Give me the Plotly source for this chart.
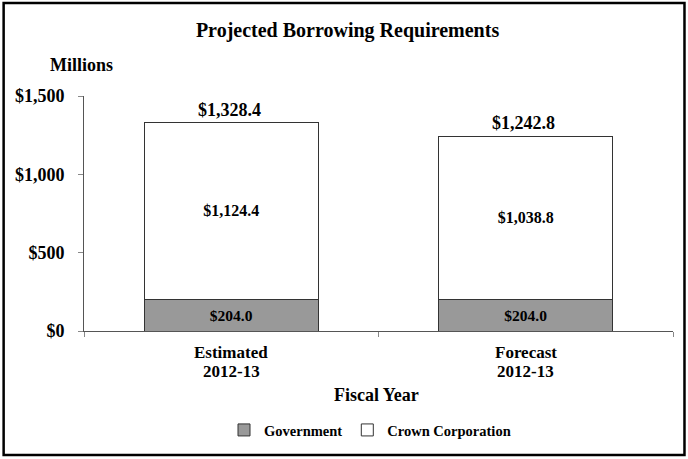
import plotly.graph_objects as go

categories = ["Estimated<br>2012-13", "Forecast<br>2012-13"]
government = [204.0, 204.0]
crown = [1124.4, 1038.8]
totals = [1328.4, 1242.8]
y_ticks = [0, 500, 1000, 1500]
y_tick_labels = ["$0", "$500", "$1,000", "$1,500"]

FONT = "Liberation Serif"
W, H = 688, 459
PL, PR, PT, PB = 83.5, 673.5, 96, 331   # plot area in pixels
PW, PH = PR - PL, PB - PT


def px_x(px):
    return (px - PL) / PW


def px_y(py):
    return (PB - py) / PH


fig = go.Figure()
fig.add_trace(go.Bar(
    x=categories, y=government, name="Government",
    marker=dict(color="#999999", line=dict(color="#333333", width=1)),
    text=[f"${v:,.1f}" for v in government], textposition="inside",
    insidetextanchor="middle",
    textfont=dict(family=FONT, size=15.5, color="black", weight="bold"),
))
fig.add_trace(go.Bar(
    x=categories, y=crown, name="Crown Corporation",
    marker=dict(color="white", line=dict(color="#333333", width=1)),
    text=[f"${v:,.1f}" for v in crown], textposition="inside",
    insidetextanchor="middle",
    textfont=dict(family=FONT, size=16, color="black", weight="bold"),
))

for c, t in zip(categories, totals):
    fig.add_annotation(x=c, y=t, text=f"<b>${t:,.1f}</b>", showarrow=False,
                       yanchor="bottom", yshift=1, xshift=-2,
                       font=dict(family=FONT, size=18, color="black"))

# category labels (two tight lines, as in the reference)
for c in categories:
    lines = c.split("<br>")
    for i, line in enumerate(lines):
        fig.add_annotation(x=c, xref="x", y=px_y(352 + 19 * i), yref="paper",
                           text=f"<b>{line}</b>", showarrow=False,
                           yanchor="middle", borderpad=0,
                           font=dict(family=FONT, size=17, color="black"))

fig.add_annotation(x=px_x(376.5), xref="paper", y=px_y(395), yref="paper",
                   text="<b>Fiscal Year</b>", showarrow=False, yanchor="middle",
                   font=dict(family=FONT, size=18, color="black"))

fig.add_annotation(x=px_x(47), xref="paper", y=px_y(65), yref="paper",
                   text="<b>Millions</b>", showarrow=False,
                   xanchor="left", yanchor="middle",
                   font=dict(family=FONT, size=18, color="black"))

fig.update_layout(
    width=W, height=H,
    barmode="stack", bargap=0.41,
    paper_bgcolor="white", plot_bgcolor="white",
    margin=dict(l=PL, r=W - PR, t=PT, b=H - PB),
    font=dict(family=FONT, size=14, color="black"),
    title=dict(text="<b>Projected Borrowing Requirements</b>",
               x=px_x(347.5), xref="paper", xanchor="center",
               y=1 - 30 / H, yanchor="middle",
               font=dict(family=FONT, size=20, color="black")),
    showlegend=True,
    legend=dict(orientation="h", x=px_x(370), xanchor="center", y=px_y(430),
                yanchor="middle",
                font=dict(family=FONT, size=14.5, color="black", weight="bold"),
                itemwidth=30, traceorder="normal"),
    xaxis=dict(showline=True, linecolor="#555555", linewidth=1,
               ticks="outside", tickson="boundaries", ticklen=5, tickcolor="#888888",
               showticklabels=False),
    yaxis=dict(range=[0, 1500], tickvals=y_ticks, ticktext=y_tick_labels,
               showgrid=False, zeroline=False, showline=True, linecolor="#555555",
               linewidth=1, ticks="outside", ticklen=5, tickcolor="#888888",
               ticklabelstandoff=10,
               tickfont=dict(family=FONT, size=18, color="black", weight="bold")),
)

fig.add_shape(type="rect", xref="paper", yref="paper",
              x0=px_x(3), x1=px_x(685), y0=px_y(455), y1=px_y(3),
              line=dict(color="black", width=2.5), fillcolor="rgba(0,0,0,0)", layer="above")

fig.write_html("out.html", config={"displayModeBar": False},
               post_script="document.body.style.margin='0';document.body.style.overflow='hidden';")
